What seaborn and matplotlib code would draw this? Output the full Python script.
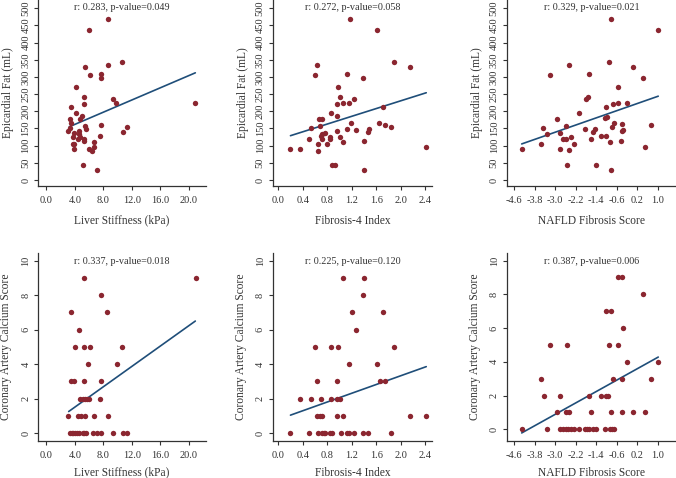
import matplotlib
matplotlib.use("Agg")
from matplotlib import pyplot as plt
import pandas as pd
import seaborn as sns

# Liver stiffness vs epicardial fat
ls_eat_x = [5.95, 8.62, 4.12, 5.48, 6.14, 8.67, 7.73, 7.68, 10.68, 5.25, 5.29, 9.41, 9.84, 3.47, 4.22,
            5.06, 4.78, 3.33, 3.42, 5.43, 5.62, 7.73, 3.33, 3.09, 4.64, 3.89, 4.64, 11.29, 10.73, 7.49,
            3.70, 4.78, 4.45, 5.34, 5.25, 6.65, 3.70, 3.89, 3.89, 5.95, 6.65, 6.46, 5.20, 7.12, 20.94]
ls_eat_y = [438, 470, 272, 328, 305, 335, 309, 296, 343, 241, 222, 236, 225, 212, 194,
            185, 179, 179, 166, 156, 149, 161, 151, 143, 143, 137, 134, 155, 140, 129,
            125, 125, 119, 119, 114, 111, 106, 105, 91, 91, 95, 85, 45, 28, 225]

# Fibrosis-4 vs epicardial fat
fib4_eat_x = [1.175, 1.61, 0.637, 0.593, 1.116, 1.377, 1.888, 2.144, 0.98, 1.007, 1.235, 1.061, 0.958,
              1.159, 1.714, 0.86, 0.658, 0.718, 0.958, 1.186, 1.649, 1.741, 1.834, 0.528, 0.686, 1.127,
              1.475, 1.463, 0.952, 1.263, 0.762, 0.718, 0.702, 0.849, 1.012, 0.495, 0.718, 0.849, 1.05,
              1.393, 0.642, 0.795, 0.19, 0.359, 0.642, 2.41, 0.882, 0.92, 1.393]
fib4_eat_y = [470, 438, 334, 305, 309, 296, 343, 328, 272, 241, 236, 225, 222,
              225, 212, 194, 179, 179, 185, 166, 165, 161, 155, 151, 156, 149,
              149, 140, 144, 145, 137, 134, 129, 125, 125, 119, 119, 119, 111,
              114, 106, 106, 91, 91, 85, 95, 44, 45, 28]

# NAFLD fibrosis score vs epicardial fat
nfs_eat_x = [-0.81, 1.026, -0.915, 0.05, -2.477, -3.207, -1.683, 0.44, -0.563, -1.787, -1.709, -0.758,
             -0.537, -0.211, -1.032, -2.087, -2.946, -1.071, -0.967, -0.706, -3.467, -2.594, -1.852,
             -1.436, -0.784, -0.407, -0.394, -0.36, -3.311, -2.816, 0.74, -1.514, -2.373, -1.201,
             -1.019, -2.712, -2.582, -1.618, -0.85, -0.42, -3.558, -2.256, -4.313, -2.816, -2.451,
             0.492, -2.542, -1.396, -0.81]
nfs_eat_y = [470, 438, 343, 328, 334, 305, 309, 296, 272, 236, 241, 222,
             225, 225, 212, 194, 179, 180, 184, 166, 151, 156, 149,
             149, 155, 164, 144, 146, 134, 137, 161, 140, 125, 127,
             129, 119, 119, 119, 111, 113, 106, 106, 91, 91, 86,
             95, 45, 44, 28]

# Liver stiffness vs coronary artery calcium score
ls_cac_x = [5.29, 20.98, 7.63, 3.47, 8.57, 4.64, 4.03, 5.29, 6.18, 10.68, 5.90, 9.88, 3.42, 3.84, 5.29,
            7.73, 4.78, 5.11, 5.43, 5.67, 5.95, 7.49, 3.09, 4.45, 4.82, 5.43, 6.70, 8.67, 3.37, 3.56,
            3.79, 4.03, 4.26, 4.59, 5.15, 5.34, 5.62, 6.51, 7.12, 7.73, 9.41, 10.73, 11.29]
ls_cac_y = [9, 9, 8, 7, 7, 6, 5, 5, 5, 5, 4, 4, 3, 3, 3,
            3, 2, 2, 2, 2, 2, 2, 1, 1, 1, 1, 1, 1, 0, 0,
            0, 0, 0, 0, 0, 0, 0, 0, 0, 0, 0, 0, 0]

# Fibrosis-4 vs coronary artery calcium score
fib4_cac_x = [1.061, 1.399, 1.377, 1.197, 1.709, 1.263, 0.593, 0.854, 0.98, 1.888, 1.159, 1.611, 0.637,
              0.958, 1.66, 1.741, 0.359, 0.528, 0.697, 0.854, 0.958, 1.012, 0.631, 0.675, 0.718, 0.952,
              1.05, 2.144, 2.411, 0.19, 0.495, 0.642, 0.707, 0.74, 0.767, 0.849, 0.882, 1.023, 1.121,
              1.159, 1.235, 1.377, 1.469, 1.834]
fib4_cac_y = [9, 9, 8, 7, 7, 6, 5, 5, 5, 5, 4, 4, 3,
              3, 3, 3, 2, 2, 2, 2, 2, 2, 1, 1, 1, 1,
              1, 1, 1, 0, 0, 0, 0, 0, 0, 0, 0, 0, 0,
              0, 0, 0, 0, 0]

# NAFLD fibrosis score vs coronary artery calcium score
nfs_cac_x = [-0.537, -0.407, 0.44, -1.019, -0.81, -0.355, -3.207, -2.555, -0.915, -0.563, -0.211, 1.013,
             -3.558, -0.758, -0.381, 0.74, -3.454, -2.816, -1.696, -1.201, -1.019, -0.941, -2.946,
             -2.582, -2.477, -1.618, -0.837, -0.394, 0.05, 0.492, -4.313, -3.311, -2.816, -2.699,
             -2.594, -2.503, -2.399, -2.269, -2.087, -1.852, -1.774, -1.696, -1.514, -1.41, -1.071,
             -0.85, -0.784, -0.706]
nfs_cac_y = [9, 9, 8, 7, 7, 6, 5, 5, 5, 5, 4, 4,
             3, 3, 3, 3, 2, 2, 2, 2, 2, 2, 1,
             1, 1, 1, 1, 1, 1, 1, 0, 0, 0, 0,
             0, 0, 0, 0, 0, 0, 0, 0, 0, 0, 0,
             0, 0, 0]

# fitted line end points
fit_x = [[3.23, 20.94], [0.2, 2.416], [-4.313, 1.026],
         [3.14, 20.94], [0.2, 2.416], [-4.313, 1.026]]
fit_y = [[155, 312], [129, 254], [105, 244],
         [1.26, 6.5], [1.05, 3.86], [-0.22, 4.28]]

stats_text = ["r: 0.283, p-value=0.049", "r: 0.272, p-value=0.058", "r: 0.329, p-value=0.021",
              "r: 0.337, p-value=0.018", "r: 0.225, p-value=0.120", "r: 0.387, p-value=0.006"]
x_labels = ["Liver Stiffness (kPa)", "Fibrosis-4 Index", "NAFLD Fibrosis Score"]
y_labels = ["Epicardial Fat (mL)", "Coronary Artery Calcium Score"]

ls_ticks = [0.0, 4.0, 8.0, 12.0, 16.0, 20.0]
fib4_ticks = [0.0, 0.4, 0.8, 1.2, 1.6, 2.0, 2.4]
nfs_ticks = [-4.6, -3.8, -3.0, -2.2, -1.4, -0.6, 0.2, 1.0]
eat_ticks = [0, 50, 100, 150, 200, 250, 300, 350, 400, 450, 500]
cac_ticks = [0, 2, 4, 6, 8, 10]

panels = [
    (ls_eat_x, ls_eat_y), (fib4_eat_x, fib4_eat_y), (nfs_eat_x, nfs_eat_y),
    (ls_cac_x, ls_cac_y), (fib4_cac_x, fib4_cac_y), (nfs_cac_x, nfs_cac_y),
]

sns.set_style("ticks")
plt.rcParams['font.family'] = ['Liberation Serif', 'DejaVu Serif']

W, H = 676, 478
fig = plt.figure(figsize=(W / 100, H / 100), dpi=100)

# pixel boxes (left, right) for columns and (top, bottom) for rows
cols = [(38.3, 205.7), (272.7, 432.0), (506.7, 676.0)]
rows = [(0.0, 185.7), (252.7, 440.7)]
xlims = [(-1.13, 22.4), (-0.09, 2.51), (-4.9, 1.72)]
ylims = [[(-16.6, 524), (-16.6, 524), (-16.6, 524)],
         [(-0.43, 10.46), (-0.43, 10.46), (-0.68, 10.47)]]
xticks = [ls_ticks, fib4_ticks, nfs_ticks]
yticks = [eat_ticks, cac_ticks]

dot = "#8b2630"
line = "#1f4e79"
ink = "#333333"

for i, (xs, ys) in enumerate(panels):
    r, c = divmod(i, 3)
    l, rgt = cols[c]
    t, b = rows[r]
    ax = fig.add_axes([l / W, 1 - b / H, (rgt - l) / W, (b - t) / H])
    df = pd.DataFrame({"x": xs, "y": ys})
    sns.scatterplot(data=df, x="x", y="y", ax=ax, color=dot, s=15, linewidth=0, zorder=3)
    sns.lineplot(x=fit_x[i], y=fit_y[i], ax=ax, color=line, linewidth=1.2, zorder=2)
    ax.set_xlim(*xlims[c])
    ax.set_ylim(*ylims[r][c])
    ax.set_xticks(xticks[c])
    ax.set_xticklabels([f"{v:.1f}" for v in xticks[c]])
    ax.set_yticks(yticks[r])
    ax.set_yticklabels([str(v) for v in yticks[r]], rotation=90, va="center")
    for s in ["top", "right"]:
        ax.spines[s].set_visible(False)
    for s in ["left", "bottom"]:
        ax.spines[s].set_color(ink)
        ax.spines[s].set_linewidth(0.9)
    ax.tick_params(colors=ink, labelsize=7.5, length=3.2, width=0.8)
    ax.tick_params(axis="x", pad=4.5)
    ax.tick_params(axis="y", pad=2.5)
    ax.set_xlabel(x_labels[c], fontsize=8.3, color=ink)
    ax.set_ylabel(y_labels[r], fontsize=8.3, color=ink)
    w_px, h_px = rgt - l, b - t
    ax.xaxis.set_label_coords(0.5, -(29 if r == 0 else 26) / h_px)
    ax.yaxis.set_label_coords(-(24 if r == 0 else 26) / w_px, 0.5)
    top_off = 7.3 if r == 0 else 9.0
    ax.text(0.5, 1 - top_off / h_px, stats_text[i], transform=ax.transAxes,
            ha="center", va="center", fontsize=7.3, color=ink)

plt.savefig("out.png", dpi=100)
